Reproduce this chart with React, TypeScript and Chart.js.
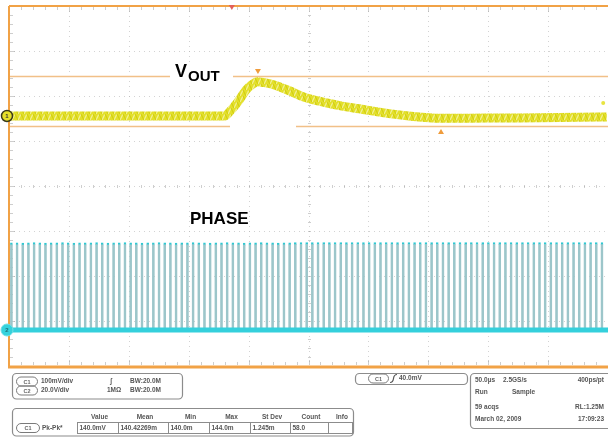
import React, { useEffect, useRef } from "react";
import { Chart, registerables } from "chart.js";

Chart.register(...registerables);

// ---------- data ----------
// horizontal: 50 µs/div, 10 divisions
const TIME_MAX_US = 500;
// C1 (VOUT) 100 mV/div, trace position +1.556 div
const C1_MV_PER_DIV = 100;
const C1_POSITION_DIV = 1.556;
// C2 (PHASE) 20 V/div, trace position -3.2 div
const C2_V_PER_DIV = 20;
const C2_POSITION_DIV = -3.2;

// VOUT (relative to its channel marker), mean of the ripple band
const voutTimeUs = [0, 60, 120, 180, 184, 191, 198, 202.5, 207.5, 213, 221.5, 234, 246, 259, 276, 292.5, 313, 334, 360, 384, 409, 442.5, 476, 499];
const voutMv = [0, 0, 0, 0, 9, 31, 58, 69, 76, 74, 69, 56, 42, 33, 23, 16, 7, 0, -5, -5, -4.5, -4, -3, -2];

// PHASE switching pulses (V), one per switching period
const PHASE_FIRST_US = 2.0;
const PHASE_PERIOD_US = 4.74;
const phasePulseV = [
  38.7, 38.7, 38.6, 38.7, 38.8, 38.7, 38.6, 38.7, 38.7, 38.8,
  38.7, 38.6, 38.7, 38.7, 38.7, 38.8, 38.7, 38.6, 38.7, 38.7,
  38.8, 38.7, 38.7, 38.6, 38.7, 38.7, 38.8, 38.7, 38.7, 38.6,
  38.7, 38.7, 38.8, 38.7, 38.7, 38.6, 38.7, 38.7, 38.8, 38.7,
  38.7, 38.6, 38.7, 38.7, 38.8, 38.7, 38.7, 38.6, 38.7, 38.7,
  38.8, 38.9, 38.9, 38.8, 38.9, 38.9, 38.8, 38.9, 38.9, 38.8,
  38.9, 38.9, 38.8, 38.9, 38.9, 38.8, 38.9, 38.9, 38.8, 38.9,
  38.9, 38.8, 38.9, 38.9, 38.8, 38.9, 38.9, 38.8, 38.9, 38.9,
  38.8, 38.9, 38.9, 38.8, 38.9, 38.9, 38.8, 38.9, 38.9, 38.8,
  38.9, 38.9, 38.8, 38.9, 38.9, 38.8, 38.9, 38.9, 38.8, 38.9,
  38.9, 38.8, 38.9, 38.9, 38.8,
];

// cursors (C1, mV) and markers
const cursorMv = [89, -22];
const triggerTimeUs = 186;
const cursorMarkTimeUs = [207.8, 360.6];

// labels and readouts
const channelRows = [
  ["C1", "100mV/div", "ʃ", "BW:20.0M"],
  ["C2", "20.0V/div", "1MΩ", "BW:20.0M"],
];
const measHeaders = ["Value", "Mean", "Min", "Max", "St Dev", "Count", "Info"];
const measValues = ["140.0mV", "140.42269m", "140.0m", "144.0m", "1.245m", "58.0", ""];
const triggerText = ["C1", "40.0mV"];
const acqRows = [
  ["50.0µs", "2.5GS/s", "400ps/pt"],
  ["Run", "Sample", ""],
  ["59 acqs", "", "RL:1.25M"],
  ["March 02, 2009", "", "17:09:23"],
];

const FONT = '"Liberation Sans", Arial, sans-serif';

function rrect(ctx: CanvasRenderingContext2D, x: number, y: number, w: number, h: number, r: number) {
  ctx.beginPath();
  ctx.moveTo(x + r, y);
  ctx.lineTo(x + w - r, y);
  ctx.arcTo(x + w, y, x + w, y + r, r);
  ctx.lineTo(x + w, y + h - r);
  ctx.arcTo(x + w, y + h, x + w - r, y + h, r);
  ctx.lineTo(x + r, y + h);
  ctx.arcTo(x, y + h, x, y + h - r, r);
  ctx.lineTo(x, y + r);
  ctx.arcTo(x, y, x + r, y, r);
  ctx.closePath();
}

function pill(ctx: CanvasRenderingContext2D, x: number, cy: number, w: number, label: string) {
  ctx.save();
  ctx.strokeStyle = "#7a7a7a";
  ctx.lineWidth = 1;
  rrect(ctx, x + 0.5, cy - 4.5, w, 9, 4.5);
  ctx.stroke();
  ctx.fillStyle = "#666";
  ctx.font = `bold 5.5px ${FONT}`;
  ctx.textAlign = "center";
  ctx.textBaseline = "middle";
  ctx.fillText(label, x + w / 2 + 0.5, cy + 0.5);
  ctx.restore();
}

function makeVoutPattern(): CanvasPattern | string {
  const t = document.createElement("canvas");
  t.width = 6;
  t.height = 6;
  const c = t.getContext("2d");
  if (!c) return "#e4e12e";
  c.fillStyle = "#e3e02c";
  c.fillRect(0, 0, 6, 6);
  c.strokeStyle = "#f2f09a";
  c.lineWidth = 1.2;
  c.beginPath();
  c.moveTo(0, 6);
  c.lineTo(3, 0);
  c.stroke();
  c.strokeStyle = "#d3cf12";
  c.beginPath();
  c.moveTo(3, 0);
  c.lineTo(6, 6);
  c.stroke();
  const p = c.createPattern(t, "repeat");
  return p || "#e4e12e";
}

const scopePlugin = {
  id: "scopeScreen",
  beforeDraw(chart: any) {
    const { ctx, chartArea: a, scales } = chart;
    ctx.save();
    ctx.fillStyle = "#ffffff";
    ctx.fillRect(0, 0, chart.width, chart.height);

    // dotted graticule
    ctx.strokeStyle = "rgba(175,175,175,0.55)";
    ctx.lineWidth = 1;
    ctx.setLineDash([1, 4]);
    for (let k = 1; k < 10; k++) {
      const x = Math.round(scales.x.getPixelForValue(k * 50)) + 0.5;
      ctx.beginPath();
      ctx.moveTo(x, a.top);
      ctx.lineTo(x, a.bottom);
      ctx.stroke();
    }
    for (let d = -3; d <= 3; d++) {
      const y = Math.round(scales.yDiv.getPixelForValue(d)) + 0.5;
      ctx.beginPath();
      ctx.moveTo(a.left, y);
      ctx.lineTo(a.right, y);
      ctx.stroke();
    }
    ctx.setLineDash([]);

    // minor ticks along the frame and centre lines
    ctx.strokeStyle = "rgba(165,165,165,0.55)";
    const yc = Math.round(scales.yDiv.getPixelForValue(0)) + 0.5;
    const xc = Math.round(scales.x.getPixelForValue(250)) + 0.5;
    for (let m = 1; m < 50; m++) {
      const x = Math.round(scales.x.getPixelForValue(m * 10)) + 0.5;
      const len = m % 5 === 0 ? 5 : 3;
      ctx.beginPath();
      ctx.moveTo(x, a.top + 1);
      ctx.lineTo(x, a.top + 1 + len);
      ctx.moveTo(x, a.bottom - 1);
      ctx.lineTo(x, a.bottom - 1 - len);
      ctx.moveTo(x, yc - 1.5);
      ctx.lineTo(x, yc + 1.5);
      ctx.stroke();
    }
    for (let m = -19; m < 20; m++) {
      const y = Math.round(scales.yDiv.getPixelForValue(m * 0.2)) + 0.5;
      const len = m % 5 === 0 ? 5 : 3;
      ctx.beginPath();
      ctx.moveTo(a.left + 1, y);
      ctx.lineTo(a.left + 1 + len, y);
      ctx.moveTo(xc - 1.5, y);
      ctx.lineTo(xc + 1.5, y);
      ctx.stroke();
    }

    // horizontal cursors
    ctx.strokeStyle = "#f1c088";
    ctx.lineWidth = 1.3;
    for (const v of cursorMv) {
      const y = Math.round(scales.y1.getPixelForValue(v)) + 0.5;
      ctx.beginPath();
      ctx.moveTo(a.left, y);
      ctx.lineTo(a.right, y);
      ctx.stroke();
    }

    // white label patches
    ctx.fillStyle = "#ffffff";
    ctx.fillRect(170, 63, 63, 19);
    ctx.fillRect(230, 122, 66, 22);
    ctx.restore();
  },
  afterDatasetsDraw(chart: any) {
    const { ctx, chartArea: a, scales } = chart;
    ctx.save();

    // orange frame
    ctx.strokeStyle = "#f1a246";
    ctx.lineWidth = 2;
    ctx.beginPath();
    ctx.moveTo(a.left, a.top);
    ctx.lineTo(chart.width, a.top);
    ctx.moveTo(a.left, a.top);
    ctx.lineTo(a.left, a.bottom + 2);
    ctx.stroke();
    ctx.lineWidth = 3;
    ctx.beginPath();
    ctx.moveTo(a.left - 1, a.bottom + 1);
    ctx.lineTo(chart.width, a.bottom + 1);
    ctx.stroke();

    // trigger position marker
    const tx = scales.x.getPixelForValue(triggerTimeUs);
    ctx.fillStyle = "#e2605a";
    ctx.beginPath();
    ctx.moveTo(tx - 3, a.top - 1);
    ctx.lineTo(tx + 3, a.top - 1);
    ctx.lineTo(tx, a.top + 4);
    ctx.closePath();
    ctx.fill();

    // cursor markers
    ctx.fillStyle = "#ef9c3c";
    const m1x = scales.x.getPixelForValue(cursorMarkTimeUs[0]);
    const m1y = scales.y1.getPixelForValue(cursorMv[0]);
    ctx.beginPath();
    ctx.moveTo(m1x - 3, m1y - 7);
    ctx.lineTo(m1x + 3, m1y - 7);
    ctx.lineTo(m1x, m1y - 2);
    ctx.closePath();
    ctx.fill();
    const m2x = scales.x.getPixelForValue(cursorMarkTimeUs[1]);
    const m2y = scales.y1.getPixelForValue(cursorMv[1]);
    ctx.beginPath();
    ctx.moveTo(m2x - 3, m2y + 8);
    ctx.lineTo(m2x + 3, m2y + 8);
    ctx.lineTo(m2x, m2y + 3);
    ctx.closePath();
    ctx.fill();

    // small yellow dot at right
    ctx.fillStyle = "#e8e440";
    ctx.beginPath();
    ctx.arc(scales.x.getPixelForValue(496), scales.y1.getPixelForValue(29), 2, 0, Math.PI * 2);
    ctx.fill();

    // channel markers
    const c1y = scales.y1.getPixelForValue(0);
    ctx.fillStyle = "#e6e02a";
    ctx.strokeStyle = "#3a3a1a";
    ctx.lineWidth = 1.5;
    ctx.beginPath();
    ctx.arc(7, c1y, 5.5, 0, Math.PI * 2);
    ctx.fill();
    ctx.stroke();
    ctx.fillStyle = "#333";
    ctx.font = `bold 6px ${FONT}`;
    ctx.textAlign = "center";
    ctx.textBaseline = "middle";
    ctx.fillText("1", 7, c1y + 0.5);

    const c2y = scales.y2.getPixelForValue(0);
    ctx.fillStyle = "#35d2dc";
    ctx.strokeStyle = "#6fe0e6";
    ctx.lineWidth = 1;
    ctx.beginPath();
    ctx.arc(7, c2y, 6, 0, Math.PI * 2);
    ctx.fill();
    ctx.stroke();
    ctx.fillStyle = "#1c6f76";
    ctx.fillText("2", 7, c2y + 0.5);

    // signal labels
    ctx.fillStyle = "#000";
    ctx.textAlign = "left";
    ctx.textBaseline = "alphabetic";
    ctx.font = `bold 18px ${FONT}`;
    ctx.fillText("V", 175, 77);
    ctx.font = `bold 15px ${FONT}`;
    ctx.fillText("OUT", 188, 81);
    ctx.font = `bold 17px ${FONT}`;
    ctx.fillText("PHASE", 190, 224);

    ctx.restore();
  },
  afterDraw(chart: any) {
    const ctx: CanvasRenderingContext2D = chart.ctx;
    ctx.save();
    ctx.strokeStyle = "#8c8c8c";
    ctx.lineWidth = 1.2;
    rrect(ctx, 12.5, 373.5, 170, 25.5, 4);
    ctx.stroke();
    rrect(ctx, 12.5, 408.5, 341, 27.5, 4);
    ctx.stroke();
    rrect(ctx, 355.5, 373.5, 112, 11, 4);
    ctx.stroke();
    rrect(ctx, 470.5, 373.5, 150, 55, 4);
    ctx.stroke();

    ctx.fillStyle = "#555";
    ctx.font = `bold 6.5px ${FONT}`;
    ctx.textBaseline = "middle";
    ctx.textAlign = "left";

    // channel box
    const rowsY = [381.5, 390.5];
    channelRows.forEach((r, i) => {
      pill(ctx, 16, rowsY[i], 21, r[0]);
      ctx.fillStyle = "#555";
      ctx.font = `bold 6.5px ${FONT}`;
      ctx.textAlign = "left";
      ctx.fillText(r[1], 41, rowsY[i]);
      ctx.fillText(r[2], i === 0 ? 110 : 107, rowsY[i]);
      ctx.fillText(r[3], 130, rowsY[i]);
    });

    // measurement box
    const edges = [77, 118, 168, 209, 250, 290, 328, 352];
    ctx.textAlign = "center";
    measHeaders.forEach((h, i) => {
      ctx.fillText(h, (edges[i] + edges[i + 1]) / 2 + 2, 417);
    });
    pill(ctx, 16, 428, 23, "C1");
    ctx.fillStyle = "#555";
    ctx.font = `bold 6.5px ${FONT}`;
    ctx.textAlign = "left";
    ctx.fillText("Pk-Pk*", 42, 428);
    ctx.strokeStyle = "#8c8c8c";
    ctx.lineWidth = 1;
    for (let i = 0; i < measValues.length; i++) {
      ctx.strokeRect(edges[i] + 0.5, 422.5, edges[i + 1] - edges[i], 11);
      ctx.fillText(measValues[i], edges[i] + 2.5, 428.5);
    }

    // trigger box
    pill(ctx, 368, 378.5, 20, triggerText[0]);
    ctx.strokeStyle = "#555";
    ctx.lineWidth = 1.2;
    ctx.beginPath();
    ctx.moveTo(390, 382.5);
    ctx.quadraticCurveTo(393, 382.5, 393.5, 378.5);
    ctx.quadraticCurveTo(394, 374.5, 397, 374.5);
    ctx.stroke();
    ctx.fillStyle = "#555";
    ctx.font = `bold 6.5px ${FONT}`;
    ctx.textAlign = "left";
    ctx.fillText(triggerText[1], 399, 378.5);

    // acquisition box
    const acqY = [380, 392, 407, 419];
    acqRows.forEach((r, i) => {
      ctx.textAlign = "left";
      ctx.fillText(r[0], 475, acqY[i]);
      if (r[1]) ctx.fillText(r[1], i === 1 ? 512 : 503, acqY[i]);
      if (r[2]) {
        ctx.textAlign = "right";
        ctx.fillText(r[2], 604, acqY[i]);
      }
    });
    ctx.restore();
  },
};

export default function App() {
  const ref = useRef<HTMLCanvasElement>(null);
  useEffect(() => {
    document.body.style.margin = "0";
    const canvas = ref.current;
    if (!canvas) return;
    const voutPattern = makeVoutPattern();
    const voutData = voutTimeUs.map((t, i) => ({ x: t, y: voutMv[i] }));
    const phaseData = phasePulseV.map((v, i) => ({ x: PHASE_FIRST_US + i * PHASE_PERIOD_US, y: v }));
    const c1Min = (-4 - C1_POSITION_DIV) * C1_MV_PER_DIV;
    const c1Max = (4 - C1_POSITION_DIV) * C1_MV_PER_DIV;
    const c2Min = (-4 - C2_POSITION_DIV) * C2_V_PER_DIV;
    const c2Max = (4 - C2_POSITION_DIV) * C2_V_PER_DIV;

    const chart = new Chart(canvas, {
      type: "bar",
      data: {
        datasets: [
          {
            type: "line",
            label: "VOUT",
            data: voutData,
            xAxisID: "x",
            yAxisID: "y1",
            borderColor: voutPattern as any,
            borderWidth: 9,
            pointRadius: 0,
            cubicInterpolationMode: "monotone",
            order: 0,
          } as any,
          {
            type: "line",
            label: "PHASE low",
            data: [
              { x: 0, y: 0 },
              { x: TIME_MAX_US, y: 0 },
            ],
            xAxisID: "x",
            yAxisID: "y2",
            borderColor: "#34d0dc",
            borderWidth: 5,
            pointRadius: 0,
            order: 1,
          } as any,
          {
            type: "bar",
            label: "PHASE",
            data: phaseData,
            xAxisID: "x",
            yAxisID: "y2",
            backgroundColor: "#9cc6ca",
            borderColor: "#2ec8d2",
            borderWidth: { top: 2, left: 0, right: 0, bottom: 0 },
            borderSkipped: "start",
            barThickness: 2.6,
            grouped: false,
            order: 2,
          } as any,
        ],
      },
      options: {
        responsive: false,
        animation: false,
        devicePixelRatio: window.devicePixelRatio || 1,
        layout: { padding: { left: 9, top: 6, right: 0, bottom: 78 } },
        plugins: {
          legend: { display: false },
          tooltip: { enabled: false },
        },
        scales: {
          x: { type: "linear", min: 0, max: TIME_MAX_US, offset: false, display: false, grid: { offset: false } },
          y1: { type: "linear", min: c1Min, max: c1Max, display: false },
          y2: { type: "linear", min: c2Min, max: c2Max, display: false },
          yDiv: { type: "linear", min: -4, max: 4, display: false },
        },
      } as any,
      plugins: [scopePlugin],
    });
    return () => chart.destroy();
  }, []);

  return (
    <div style={{ width: 608, height: 444, position: "relative", overflow: "hidden" }}>
      <canvas ref={ref} width={608} height={444} style={{ width: "608px", height: "444px", display: "block" }} />
    </div>
  );
}
